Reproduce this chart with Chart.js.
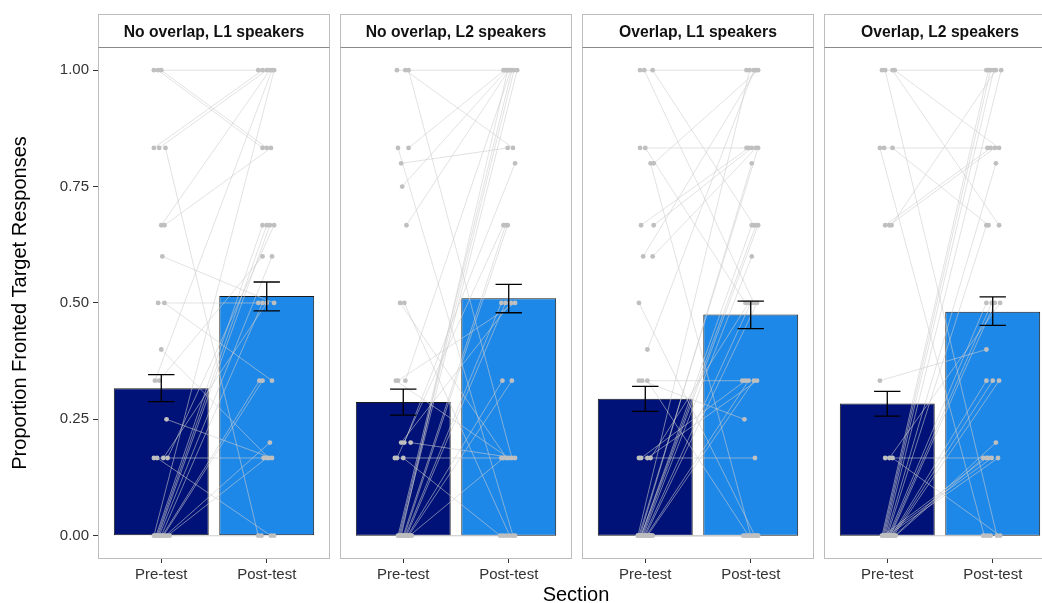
<!DOCTYPE html>
<html>
<head>
<meta charset="utf-8">
<script src="https://cdn.jsdelivr.net/npm/chart.js@4/dist/chart.umd.min.js"></script>
<style>
  html, body { margin: 0; padding: 0; background: #fff; overflow: hidden; width: 1042px; height: 603px; }
  .panel { position: absolute; top: 14px; height: 575px; }
  #xtitle { position: absolute; left: 476px; width: 200px; top: 583px; line-height: 24px;
            text-align: center; font: 20px 'Liberation Sans', Arial, sans-serif; color: #000; }
</style>
</head>
<body>
<div class="panel" style="left:0px;width:330px"><canvas id="c0"></canvas></div>
<div class="panel" style="left:340px;width:232px"><canvas id="c1"></canvas></div>
<div class="panel" style="left:582px;width:232px"><canvas id="c2"></canvas></div>
<div class="panel" style="left:824px;width:232px"><canvas id="c3"></canvas></div>
<div id="xtitle">Section</div>
<script>
// Facet titles and x categories
const panelTitles = ['No overlap, L1 speakers', 'No overlap, L2 speakers', 'Overlap, L1 speakers', 'Overlap, L2 speakers'];
const sections = ['Pre-test', 'Post-test'];
const yTicks = [0, 0.25, 0.5, 0.75, 1];

// Group means and error bar limits (Pre-test / Post-test)
const meanPre   = [0.317, 0.287, 0.294, 0.284];
const meanPost  = [0.515, 0.510, 0.475, 0.481];
const errLoPre  = [0.288, 0.259, 0.267, 0.257];
const errHiPre  = [0.346, 0.315, 0.321, 0.310];
const errLoPost = [0.483, 0.479, 0.445, 0.452];
const errHiPost = [0.545, 0.540, 0.504, 0.513];

// Individual participants: proportion at pre and post, with horizontal jitter (category units)
const noOvL1Pre  = [1,1,1,0.833,0.833,0.833,0.667,0.667,0.6,0.5,0.5,0.4,0.333,0.333,0.25,0.167,0.167,0.167,0.167,0,0,0,0,0,0,0,0,0,0,0,0];
const noOvL1Post = [1,0.833,0.833,1,1,0,1,0.833,0.5,0.5,0.333,0.167,1,0.6,0.167,0.167,0,0.5,0.667,1,0,0.667,0.667,0.667,0.6,0.5,0.333,0.333,0.2,0.167,0];
const noOvL1PreJit  = [-0.07,-0.03,0.00,-0.07,-0.02,0.04,0.00,0.03,0.01,-0.03,0.03,0.00,-0.06,-0.02,0.05,-0.07,-0.04,0.02,0.06,-0.07,-0.06,-0.05,-0.04,-0.03,-0.02,0.00,0.01,0.02,0.04,0.06,0.08];
const noOvL1PostJit = [-0.08,-0.04,0.00,-0.04,0.00,-0.08,0.03,0.04,0.07,-0.08,0.05,0.02,0.05,-0.04,0.05,-0.03,0.04,0.00,0.07,0.07,-0.05,-0.04,0.00,0.03,0.05,-0.04,-0.07,-0.04,0.03,0.00,0.07];

const noOvL2Pre  = [1,1,1,0.833,0.833,0.8,0.75,0.667,0.5,0.5,0.333,0.333,0.333,0.2,0.2,0.2,0.167,0.167,0.167,0,0,0,0,0,0,0,0,0,0,0,0,0,0];
const noOvL2Post = [1,0.833,0.167,1,0,0.833,1,1,0.167,0,0.167,0.5,1,0.167,0.5,0.8,0.167,0,0.667,1,1,1,1,0,0.667,0.667,0.5,0.5,0.333,0.333,0.167,0,0];
const noOvL2PreJit  = [-0.06,0.02,0.05,0.05,-0.05,-0.02,-0.01,0.03,-0.03,0.01,-0.07,-0.05,0.02,0.07,-0.02,0.01,-0.08,0.00,-0.06,-0.05,-0.04,-0.03,-0.02,-0.01,0.00,0.01,0.02,0.03,0.04,0.05,0.06,0.07,0.08];
const noOvL2PostJit = [-0.05,0.04,0.03,-0.04,0.04,-0.01,-0.02,0.00,-0.02,0.01,0.00,0.06,0.02,0.06,0.02,0.06,-0.07,-0.08,-0.05,0.03,0.05,0.08,-0.01,-0.05,-0.03,-0.01,-0.07,-0.03,-0.06,0.03,-0.05,-0.02,0.06];

const ovL1Pre  = [1,1,1,0.833,0.833,0.8,0.8,0.667,0.667,0.6,0.6,0.5,0.4,0.333,0.333,0.333,0.167,0.167,0.167,0.167,0,0,0,0,0,0,0,0,0,0,0,0,0,0,0,0,0,0];
const ovL1Post = [1,0.667,0.5,0.833,0.5,1,0,0.833,0.833,0.833,1,0,1,0.333,0.25,0,0.167,0.333,0.333,0.5,1,0.833,0.8,0.667,0.667,0.667,0.6,0.5,0.5,0.333,0.333,0,0,0,0,0,0,0];
const ovL1PreJit  = [-0.05,0.07,-0.01,-0.05,0.00,0.08,0.05,-0.04,0.08,0.07,-0.02,-0.06,0.02,-0.06,-0.03,0.02,-0.06,-0.04,0.02,0.05,-0.07,-0.06,-0.05,-0.04,-0.04,-0.03,-0.02,-0.01,0.00,0.01,0.02,0.03,0.03,0.04,0.05,0.06,0.07,-0.07];
const ovL1PostJit = [-0.04,0.03,0.03,-0.04,-0.05,0.07,0.00,-0.02,0.01,0.05,0.05,0.04,0.03,-0.08,-0.06,-0.02,0.04,-0.05,0.06,-0.02,-0.01,0.07,0.01,0.01,0.05,0.07,0.01,0.00,0.06,-0.02,0.03,-0.07,-0.05,-0.03,0.02,0.05,0.06,0.07];

const ovL2Pre  = [1,1,1,1,0.833,0.833,0.833,0.667,0.667,0.667,0.333,0.167,0.167,0.167,0,0,0,0,0,0,0,0,0,0,0,0,0,0,0,0,0,0,0,0];
const ovL2Post = [1,0.833,0.667,0,0.833,0.667,0,1,0.833,0.833,0.4,0.167,0,0.5,1,1,1,1,0.8,0.667,0.5,0.5,0.5,0.333,0.333,0.333,0.2,0.167,0.167,0.167,0.167,0,0,0];
const ovL2PreJit  = [-0.05,0.07,0.05,-0.02,-0.03,0.05,-0.07,0.04,-0.02,0.02,-0.07,-0.02,0.05,0.02,-0.05,-0.04,-0.03,-0.02,-0.01,0.00,0.01,0.02,0.03,0.04,0.05,0.06,0.07,0.08,-0.04,-0.02,0.00,0.02,0.04,0.06];
const ovL2PostJit = [-0.06,0.06,0.06,0.04,-0.05,-0.04,-0.08,0.03,-0.02,0.02,-0.06,-0.04,0.07,0.07,-0.04,-0.02,0.01,0.08,0.03,-0.06,-0.06,-0.01,0.02,-0.06,0.00,0.06,0.03,-0.09,-0.06,-0.01,0.05,-0.09,-0.05,-0.02];

const participants = [
  { pre: noOvL1Pre, post: noOvL1Post, preJit: noOvL1PreJit, postJit: noOvL1PostJit },
  { pre: noOvL2Pre, post: noOvL2Post, preJit: noOvL2PreJit, postJit: noOvL2PostJit },
  { pre: ovL1Pre,   post: ovL1Post,   preJit: ovL1PreJit,   postJit: ovL1PostJit },
  { pre: ovL2Pre,   post: ovL2Post,   preJit: ovL2PreJit,   postJit: ovL2PostJit }
];

const FONT = "'Liberation Sans', Arial, Helvetica, sans-serif";
Chart.defaults.font.family = FONT;
Chart.defaults.animation = false;

const PRE_COL = '#001177';
const POST_COL = '#1e88e8';
const CAP = 0.125;   // half-width of error bar caps, in category units

// Panel border and facet strip outline
const panelFrame = {
  id: 'panelFrame',
  afterDraw(chart) {
    const { ctx, chartArea: a } = chart;
    const l = Math.round(a.left) + 0.5, r = Math.round(a.right) - 0.5;
    const t = Math.round(a.top) + 0.5, b = Math.round(a.bottom) - 0.5;
    ctx.save();
    ctx.lineWidth = 1;
    ctx.strokeStyle = '#bdbdbd';
    ctx.strokeRect(l, 0.5, r - l, b - 0.5);
    ctx.strokeStyle = '#8a8a8a';
    ctx.beginPath(); ctx.moveTo(l, t); ctx.lineTo(r, t); ctx.stroke();
    ctx.restore();
  }
};

function buildPanel(i) {
  const p = participants[i];
  const pairs = [];
  const dots = [];
  for (let k = 0; k < p.pre.length; k++) {
    const a = { x: 1 + p.preJit[k], y: p.pre[k] };
    const b = { x: 2 + p.postJit[k], y: p.post[k] };
    pairs.push(a, b, { x: 1.5, y: null });
    dots.push(a, b);
  }
  const err = [];
  [[1, errLoPre[i], errHiPre[i]], [2, errLoPost[i], errHiPost[i]]].forEach(([x, lo, hi]) => {
    err.push({ x: x - CAP, y: hi }, { x: x + CAP, y: hi }, { x: x, y: null },
             { x: x, y: hi }, { x: x, y: lo }, { x: x, y: null },
             { x: x - CAP, y: lo }, { x: x + CAP, y: lo }, { x: x, y: null });
  });

  const first = i === 0;
  return new Chart(document.getElementById('c' + i), {
    type: 'bar',
    data: {
      datasets: [
        {
          type: 'bar',
          data: [{ x: 1, y: meanPre[i] }, { x: 2, y: meanPost[i] }],
          backgroundColor: [PRE_COL, POST_COL],
          borderColor: '#1a1a1a',
          borderWidth: 1,
          borderSkipped: false,
          barPercentage: 0.9,
          categoryPercentage: 1,
          order: 4
        },
        {
          type: 'line',
          data: pairs,
          borderColor: 'rgba(204,204,204,0.72)',
          borderWidth: 0.8,
          pointRadius: 0,
          spanGaps: false,
          fill: false,
          order: 3
        },
        {
          type: 'scatter',
          data: dots,
          backgroundColor: '#bfbfbf',
          borderWidth: 0,
          pointRadius: 2.4,
          order: 2
        },
        {
          type: 'line',
          data: err,
          borderColor: '#000',
          borderWidth: 1.3,
          pointRadius: 0,
          spanGaps: false,
          fill: false,
          order: 1
        }
      ]
    },
    options: {
      responsive: true,
      maintainAspectRatio: false,
      animation: false,
      events: [],
      layout: { padding: 0, autoPadding: false },
      plugins: {
        legend: { display: false },
        tooltip: { enabled: false },
        title: {
          display: true,
          text: panelTitles[i],
          fullSize: false,
          color: '#111',
          font: { family: FONT, size: 15.7, weight: 'bold', lineHeight: 1.2 },
          padding: { top: 9.5, bottom: 4.6 }
        }
      },
      scales: {
        x: {
          type: 'linear',
          min: 0.4,
          max: 2.6,
          offset: false,
          bounds: 'data',
          afterBuildTicks: s => { s.ticks = sections.map((_, k) => ({ value: k + 1 })); },
          afterFit: s => { s.height = 30; },
          ticks: {
            callback: v => sections[Math.round(v) - 1],
            color: '#333',
            font: { family: FONT, size: 15 },
            padding: 3,
            maxRotation: 0,
            autoSkip: false
          },
          grid: { display: true, drawOnChartArea: false, drawTicks: true, tickLength: 4, color: '#333', offset: false },
          border: { display: false }
        },
        y: {
          display: first,
          min: -0.05,
          max: 1.05,
          bounds: 'data',
          afterBuildTicks: s => { s.ticks = yTicks.map(v => ({ value: v })); },
          afterFit: s => { if (first) s.width = 98; },
          ticks: {
            callback: v => v.toFixed(2),
            color: '#333',
            font: { family: FONT, size: 15 },
            padding: 4,
            autoSkip: false
          },
          grid: { display: true, drawOnChartArea: false, drawTicks: true, tickLength: 5, color: '#333' },
          border: { display: false },
          title: {
            display: first,
            text: 'Proportion Fronted Target Responses',
            color: '#000',
            font: { family: FONT, size: 20 },
            padding: { top: 8, bottom: 0 }
          }
        }
      }
    },
    plugins: [panelFrame]
  });
}

for (let i = 0; i < 4; i++) buildPanel(i);
</script>
</body>
</html>
